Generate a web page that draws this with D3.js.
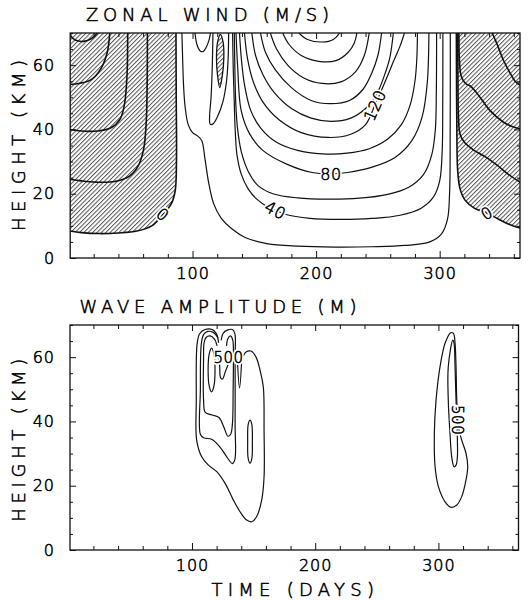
<!DOCTYPE html>
<html>
<head>
<meta charset="utf-8">
<script src="https://cdn.jsdelivr.net/npm/d3@7"></script>
<style>
  body { margin: 0; background: #fff; }
  text { font-family: "DejaVu Sans", "Liberation Sans", sans-serif; font-weight: 200; fill: #000; }
  .ink { stroke: #000; stroke-width: 0.55px; }
  .tick line { stroke: #111; stroke-width: 1; }
  .tick text { font-size: 16px; letter-spacing: 1px; stroke: #000; stroke-width: 0.55px; }
</style>
</head>
<body>
<svg id="chart" width="531" height="601"></svg>
<script>
// ---- axis ticks ----
const dayMajor = [100, 200, 300];
const dayMinor = [20, 40, 60, 80, 120, 140, 160, 180, 220, 240, 260, 280, 320, 340, 360];
const kmMajor = [0, 20, 40, 60];
const kmMinor = [5, 10, 15, 25, 30, 35, 45, 50, 55, 65, 70];

// ---- zonal wind (m/s): contour lines as [day, km] ----
const windLevels = [20, 40, 60, 80, 100, 120, 140, 160, 180, 200, 220];
const wind20 = [[91.4,70],[92,62],[92.7,54],[94,47],[96.5,41.5],[100,39],[104,38],[107.5,36.5],[110,31],[113,23.5],[117,17],[123,12.5],[132,9],[143,6.3],[160,4.5],[185,3.7],[215,3.4],[245,3.5],[272,3.9],[292,5],[301.5,7.5],[306.3,12],[308,20],[308.5,40],[308.6,70]];
const wind40 = [[132.4,70],[133,58],[133.8,48],[134.5,40],[136,32],[139.5,26],[145,21.5],[152,18.3],[162,15.6],[167,14.9],[175,13.6],[195,12.3],[220,12],[245,12.3],[268,13.3],[285,15.5],[295,19],[300,24],[302,33],[302.5,50],[302.6,70]];
const wind60 = [[133.8,70],[134.3,58],[135,48],[136.5,40],[139.5,33],[145,27],[153,22.5],[165,20],[185,18.7],[210,18.3],[235,18.6],[258,19.8],[275,22],[287,26],[293.5,32],[296.5,40],[297.3,52],[297.5,70]];
const wind80 = [[135.2,70],[136.5,59.6],[139.3,46],[146.1,38.7],[157.1,33.4],[176.2,29.2],[196.8,26.6],[212,26.2],[225.5,26.6],[244.7,28.2],[263.9,31.3],[277.6,36.6],[285.8,43.9],[289.9,54.3],[291.3,70]];
const wind100 = [[138,70],[139.5,62],[142,54],[147,46],[155,40.5],[168,36],[185,33.5],[205,32.4],[225,32.6],[243,34],[258,37],[269,41.5],[276,47.5],[280,55],[281.5,62],[282,70]];
const wind120 = [[142,70],[144.5,62],[149,55],[157,48.5],[170,43],[188,39],[210,37.5],[228,38.5],[240,41.5],[247.5,47.5],[256,55],[263,61.5],[268,66],[271.5,70]];
const wind140 = [[148,70],[151,63],[157,57],[166,51.5],[180,46.5],[196,43.5],[212,42.5],[228,43.5],[240,46.5],[249,51],[255,56.5],[259.5,62],[262.5,70]];
const wind160 = [[155,70],[159,64],[167,58.5],[180,53],[196,49],[212,48],[227,49],[238,52.5],[245,57.5],[250,63],[253,70]];
const wind180 = [[163,70],[168,65],[177,60],[190,56],[205,54.3],[220,54.8],[232,58],[239,63],[243,70]];
const wind200 = [[173,70],[178,66.5],[188,63],[202,61.2],[216,61.4],[226,64],[231,67],[233,70]];
const wind220 = [[186,70],[193,68],[205,67.2],[214,68],[219,70]];
const windDip = [[102,70],[103.5,66.5],[106,64.5],[108.5,64.2],[111,65.5],[113.5,68],[114.5,70]];
const windHook = [[116.5,70],[116,60],[115,50],[113.8,44],[114.3,41.6],[116.8,41.8],[120.2,44],[124.5,48.5],[127.5,55],[128.8,62],[129.2,70]];
const windEastCell = [[122.5,69.6],[120.2,67],[119.4,62],[120.2,57],[122,53],[124,56.5],[125.3,62],[124.8,67]];

// easterly (negative) winds
const west0 = [[86.6,70],[86.8,50],[87,30],[86,21],[83,17],[76,13.5],[67,10],[55,8.4],[40,7.8],[25,7.6],[10,7.9],[1,8.4]];
const west20 = [[63.5,70],[63.3,55],[62.5,42],[60.5,34],[56.5,29],[49,25.5],[37,23.8],[22,23.6],[10,24],[1,24.5]];
const west40 = [[47.5,70],[47,57],[45,48],[41.5,43.3],[34,40.5],[23,39.5],[10,39.5],[1,40]];
const west60 = [[33,70],[31,64],[26,59],[18,55.5],[8,54.3],[1,54]];
const west80 = [[1,69.3],[5,67.8],[12,67.4],[18,68.2],[23,70]];
const east0 = [[313.5,70],[313.7,50],[314,35],[314.6,27],[316.5,21.5],[320.5,18],[328,15.5],[338,14],[348,12],[356,10.5],[365,9.3]];
const east20 = [[314.6,70],[314.8,55],[315.2,44],[316.5,38.5],[320,36],[327.8,33.5],[337.3,31.4],[346.7,28.8],[355,26.2],[365,23.6]];
const east40 = [[315.6,70],[315.9,62],[317.5,56.5],[321,54.3],[325.4,53.3],[332.3,50.2],[340.4,46],[351.4,42.3],[358,41],[365,40.2]];
const east60 = [[342.5,70],[347,66],[351.5,61.6],[357,57.5],[361,55],[365,53.8]];

// labelled wind contours: value and anchor [day, km]
const windLabelValues = [0, 0, 40, 80, 120];
const windLabelAt = [[76,13.5],[338,14],[167,14.9],[212,26.2],[247.5,47.5]];

// ---- wave amplitude (m): contour lines as [day, km] ----
const waveOuterWest = [[121.1,66],[119.5,67.5],[116.3,68.6],[110.6,68.6],[106.1,67.2],[104.1,63.8],[103.5,46.7],[103.8,34.2],[107.9,29],[113.3,26.4],[120.1,24.4],[126.8,20.8],[133.5,15.6],[139,11.9],[144.4,9.3],[148.5,8.8],[152.5,10.4],[156.6,15.6],[158.5,22.7],[158.5,37.3],[157.9,50.7],[155.2,56],[152,60],[147.9,61.9],[143.9,61.6],[141.6,60.3]];
const waveNotch = [[136.8,59.6],[138.6,50.4],[140.4,59.6]];
const waveMidWest = [[121.6,64.5],[120.6,66.3],[117.2,67.7],[112.8,68],[109.4,67],[107.6,64.2],[106.8,49.6],[106.8,36],[109.4,34.9],[116.3,34.4],[123.2,31.8],[128.7,28.7],[132.8,26.9],[134.8,28.1],[135,39.1],[135,60],[134.8,67.3],[132.8,68.6],[128.7,68.4],[125.4,67.5],[123.7,65.2]];
const waveInnerWest = [[120.4,63.5],[118.3,65.6],[114.6,66.6],[111.4,66.1],[109.8,64.4],[109.4,59.1],[109.4,46.7],[110.8,42.8],[116.3,42],[121.9,41.2],[126,38.1],[129.2,35.4],[131.4,36],[132.8,39.1],[133.4,49.6],[133.6,60],[133.1,65.3],[131.3,66.6],[129.2,65.8],[128,63.5]];
const waveCoreWest = [[115.9,62.8],[117.8,61],[118.7,56],[117.8,51],[115.9,49.2],[114,51],[113.1,56],[114,61]];
const waveStemWest = [[121.5,62],[122.5,57],[123.2,53.6],[124.8,53.2],[127,55.4],[129.5,57.8],[131.5,59.3]];
const waveLowCell = [[147.1,40.4],[148.6,39],[149,33.7],[148.6,28.5],[147.1,27],[145.6,28.5],[145.2,33.7],[145.6,39]];
const waveOuterEast = [[310,67.6],[305.4,64.3],[301.3,57],[298.1,46.7],[296.7,36.3],[297.3,25.9],[300,19.7],[305.4,15],[310.3,13.3],[314.9,14],[318.9,16.6],[322.4,21.8],[323.8,25.9],[322.4,30.1],[318.9,34.2],[316.2,38.4],[314.9,46.7],[314.3,57],[313.5,64.3],[312.2,67.4]];
const waveInnerEast = [[311.7,65.3],[308,57],[308,46.7],[309.4,36.3],[310.8,29],[312.7,25.9],[314.3,26.4],[315.4,29],[315.4,34.2],[314.3,46.7],[313.5,57],[312.7,64.3]];

const waveLabelValues = [500, 500];
const waveLabelAt = [[129.7,60],[315.4,40.4]];

// ---- drawing ----
const svg = d3.select("#chart");
const defs = svg.append("defs");

const hatch = defs.append("pattern")
  .attr("id", "hatch").attr("patternUnits", "userSpaceOnUse")
  .attr("width", 3.1).attr("height", 3.1)
  .attr("patternTransform", "rotate(45)");
hatch.append("line").attr("x1", 0.5).attr("y1", 0).attr("x2", 0.5).attr("y2", 3.1)
  .attr("stroke", "#4a4a4a").attr("stroke-width", 0.95);

const xWind = d3.scaleLinear().domain([1, 365]).range([70.2, 520]);
const yWind = d3.scaleLinear().domain([0, 70]).range([258, 33]);
const xWave = d3.scaleLinear().domain([1, 365]).range([70, 518.5]);
const yWave = d3.scaleLinear().domain([0, 70]).range([550, 325]);

function clipFor(id, xs, ys) {
  defs.append("clipPath").attr("id", id).append("rect")
    .attr("x", xs.range()[0]).attr("y", ys.range()[1])
    .attr("width", xs.range()[1] - xs.range()[0])
    .attr("height", ys.range()[0] - ys.range()[1]);
}
clipFor("clipWind", xWind, yWind);
clipFor("clipWave", xWave, yWave);

function lineGen(xs, ys, closed) {
  return d3.line().x(d => xs(d[0])).y(d => ys(d[1]))
    .curve(closed ? d3.curveCatmullRomClosed.alpha(0.5) : d3.curveCatmullRom.alpha(0.5));
}

function axes(g, xs, ys) {
  const [x0, x1] = xs.range();
  const [yb, yt] = ys.range();
  const add = (axis, tx, ty) => {
    const a = g.append("g").attr("transform", `translate(${tx},${ty})`).call(axis);
    a.select(".domain").remove();
    a.attr("font-family", null).attr("font-size", null);
    return a;
  };
  add(d3.axisBottom(xs).tickValues(dayMinor).tickSize(-4).tickFormat(""), 0, yb);
  add(d3.axisBottom(xs).tickValues(dayMajor).tickSizeInner(-7).tickSizeOuter(0).tickPadding(10), 0, yb);
  add(d3.axisTop(xs).tickValues(dayMinor).tickSize(-4).tickFormat(""), 0, yt);
  add(d3.axisTop(xs).tickValues(dayMajor).tickSize(-6).tickFormat(""), 0, yt);
  add(d3.axisLeft(ys).tickValues(kmMinor).tickSize(-3).tickFormat(""), x0, 0);
  add(d3.axisLeft(ys).tickValues(kmMajor).tickSizeInner(-6).tickSizeOuter(0).tickPadding(15), x0, 0);
  add(d3.axisRight(ys).tickValues(kmMinor).tickSize(-3).tickFormat(""), x1, 0);
  add(d3.axisRight(ys).tickValues(kmMajor).tickSize(-6).tickFormat(""), x1, 0);
  g.append("rect").attr("x", x0).attr("y", yt).attr("width", x1 - x0).attr("height", yb - yt)
    .attr("fill", "none").attr("stroke", "#111").attr("stroke-width", 1.3);
}

function contourLabel(g, xs, ys, text, at, angle, size) {
  const t = `translate(${xs(at[0])},${ys(at[1])}) rotate(${angle})`;
  // white halo opens a gap in the contour line, then the inked glyphs
  g.append("text").attr("transform", t)
    .attr("text-anchor", "middle").attr("dy", "0.36em")
    .attr("font-size", size).attr("letter-spacing", "0.5px")
    .attr("fill", "#fff").attr("stroke", "#fff").attr("stroke-width", 4)
    .text(text);
  g.append("text").attr("class", "ink").attr("transform", t)
    .attr("text-anchor", "middle").attr("dy", "0.36em")
    .attr("font-size", size).attr("letter-spacing", "0.5px")
    .text(text);
}

function title(g, x, y, rotate, anchor, length, text) {
  g.append("text").attr("class", "ink")
    .attr("transform", `translate(${x},${y}) rotate(${rotate})`)
    .attr("text-anchor", anchor).attr("font-size", 18)
    .attr("textLength", length).attr("lengthAdjust", "spacing").text(text);
}

// ===== Zonal wind panel =====
const gWind = svg.append("g");
const plotWind = gWind.append("g").attr("clip-path", "url(#clipWind)");
const lw = lineGen(xWind, yWind, false);
const lwc = lineGen(xWind, yWind, true);

// easterly regions are hatched
plotWind.append("path")
  .attr("d", lw(west0) + `L${xWind(1)},${yWind(70)}Z`)
  .attr("fill", "url(#hatch)");
plotWind.append("path")
  .attr("d", lw(east0) + `L${xWind(365)},${yWind(70)}Z`)
  .attr("fill", "url(#hatch)");
plotWind.append("path").attr("d", lwc(windEastCell)).attr("fill", "url(#hatch)");

const westerlies = [wind20, wind40, wind60, wind80, wind100, wind120, wind140, wind160, wind180, wind200, wind220, windDip, windHook];
plotWind.selectAll("path.pos").data(westerlies).join("path").attr("class", "pos")
  .attr("d", lw).attr("fill", "none").attr("stroke", "#111").attr("stroke-width", 1.2);

const easterlies = [west0, west20, west40, west60, west80, east0, east20, east40, east60];
plotWind.selectAll("path.neg").data(easterlies).join("path").attr("class", "neg")
  .attr("d", lw).attr("fill", "none").attr("stroke", "#111").attr("stroke-width", 1.6);
plotWind.append("path").attr("d", lwc(windEastCell))
  .attr("fill", "none").attr("stroke", "#111").attr("stroke-width", 1.3);

const windAngles = [40, -30, 28, 0, -66];
windLabelValues.forEach((v, i) =>
  contourLabel(plotWind, xWind, yWind, String(v), windLabelAt[i], windAngles[i], 16));

axes(gWind, xWind, yWind);

title(gWind, 86, 20.5, 0, "start", 243, "ZONAL WIND (M/S)");
title(gWind, 25, 145.5, -90, "middle", 171, "HEIGHT (KM)");

// ===== Wave amplitude panel =====
const gWave = svg.append("g");
const plotWave = gWave.append("g").attr("clip-path", "url(#clipWave)");
const lv = lineGen(xWave, yWave, false);
const lvc = lineGen(xWave, yWave, true);

const waveOpen = [waveOuterWest, waveNotch, waveMidWest, waveInnerWest, waveStemWest];
const waveClosed = [waveCoreWest, waveLowCell, waveOuterEast, waveInnerEast];
plotWave.selectAll("path.open").data(waveOpen).join("path").attr("class", "open")
  .attr("d", lv).attr("fill", "none").attr("stroke", "#111").attr("stroke-width", 1.2);
plotWave.selectAll("path.closed").data(waveClosed).join("path").attr("class", "closed")
  .attr("d", lvc).attr("fill", "none").attr("stroke", "#111").attr("stroke-width", 1.2);

const waveAngles = [0, 90];
waveLabelValues.forEach((v, i) =>
  contourLabel(plotWave, xWave, yWave, String(v), waveLabelAt[i], waveAngles[i], 15));

axes(gWave, xWave, yWave);

title(gWave, 79.5, 313, 0, "start", 277, "WAVE AMPLITUDE (M)");
title(gWave, 25.4, 440.3, -90, "middle", 163, "HEIGHT (KM)");
title(gWave, 211.5, 596, 0, "start", 162.5, "TIME (DAYS)");
</script>
</body>
</html>
